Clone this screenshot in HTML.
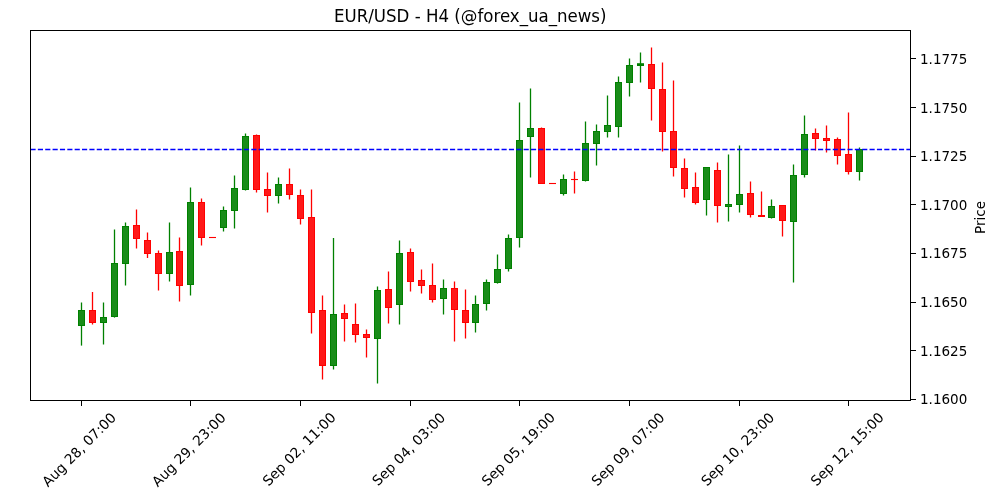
<!DOCTYPE html>
<html><head><meta charset="utf-8"><title>EUR/USD - H4</title>
<style>
html,body{margin:0;padding:0;background:#fff;}
body{width:1000px;height:500px;overflow:hidden;}
svg{display:block;}
text{font-family:"DejaVu Sans","Liberation Sans",sans-serif;fill:#000;}
.t10{font-size:13.889px;}
.t12{font-size:16.667px;}
</style></head><body>
<svg width="1000" height="500" viewBox="0 0 1000 500">
<rect x="0" y="0" width="1000" height="500" fill="#fff"/>

<g id="wicks">
<rect x="80.85" y="302.5" width="1.3" height="43.1" fill="#008000"/>
<rect x="91.85" y="292.0" width="1.3" height="32.5" fill="#ff0000"/>
<rect x="102.85" y="302.5" width="1.3" height="42.0" fill="#008000"/>
<rect x="113.85" y="229.5" width="1.3" height="88.1" fill="#008000"/>
<rect x="124.85" y="222.5" width="1.3" height="63.0" fill="#008000"/>
<rect x="135.85" y="209.5" width="1.3" height="39.0" fill="#ff0000"/>
<rect x="146.85" y="232.5" width="1.3" height="25.5" fill="#ff0000"/>
<rect x="157.85" y="250.5" width="1.3" height="40.0" fill="#ff0000"/>
<rect x="168.85" y="222.5" width="1.3" height="59.0" fill="#008000"/>
<rect x="178.85" y="237.5" width="1.3" height="64.0" fill="#ff0000"/>
<rect x="189.85" y="187.5" width="1.3" height="108.0" fill="#008000"/>
<rect x="200.85" y="198.5" width="1.3" height="47.0" fill="#ff0000"/>
<rect x="222.85" y="206.5" width="1.3" height="25.0" fill="#008000"/>
<rect x="233.85" y="175.5" width="1.3" height="53.0" fill="#008000"/>
<rect x="244.85" y="133.5" width="1.3" height="57.0" fill="#008000"/>
<rect x="255.85" y="134.5" width="1.3" height="58.0" fill="#ff0000"/>
<rect x="266.85" y="172.5" width="1.3" height="40.0" fill="#ff0000"/>
<rect x="277.85" y="177.5" width="1.3" height="26.0" fill="#008000"/>
<rect x="288.85" y="168.5" width="1.3" height="31.0" fill="#ff0000"/>
<rect x="299.85" y="189.5" width="1.3" height="35.0" fill="#ff0000"/>
<rect x="310.85" y="189.5" width="1.3" height="144.0" fill="#ff0000"/>
<rect x="321.85" y="295.5" width="1.3" height="84.0" fill="#ff0000"/>
<rect x="332.85" y="238.0" width="1.3" height="131.5" fill="#008000"/>
<rect x="343.85" y="304.5" width="1.3" height="37.0" fill="#ff0000"/>
<rect x="354.85" y="303.5" width="1.3" height="39.0" fill="#ff0000"/>
<rect x="365.85" y="329.5" width="1.3" height="28.0" fill="#ff0000"/>
<rect x="376.85" y="286.5" width="1.3" height="97.0" fill="#008000"/>
<rect x="387.85" y="271.5" width="1.3" height="52.0" fill="#ff0000"/>
<rect x="398.85" y="240.5" width="1.3" height="84.0" fill="#008000"/>
<rect x="409.85" y="248.5" width="1.3" height="43.0" fill="#ff0000"/>
<rect x="420.85" y="269.5" width="1.3" height="24.0" fill="#ff0000"/>
<rect x="431.85" y="263.5" width="1.3" height="39.0" fill="#ff0000"/>
<rect x="442.85" y="279.5" width="1.3" height="35.0" fill="#008000"/>
<rect x="453.85" y="281.5" width="1.3" height="60.0" fill="#ff0000"/>
<rect x="464.85" y="289.5" width="1.3" height="49.0" fill="#ff0000"/>
<rect x="474.85" y="295.5" width="1.3" height="37.0" fill="#008000"/>
<rect x="485.85" y="279.5" width="1.3" height="31.0" fill="#008000"/>
<rect x="496.85" y="254.5" width="1.3" height="29.1" fill="#008000"/>
<rect x="507.85" y="234.5" width="1.3" height="37.0" fill="#008000"/>
<rect x="518.85" y="102.5" width="1.3" height="145.0" fill="#008000"/>
<rect x="529.85" y="88.5" width="1.3" height="89.0" fill="#008000"/>
<rect x="540.85" y="127.5" width="1.3" height="56.1" fill="#ff0000"/>
<rect x="562.85" y="174.5" width="1.3" height="21.0" fill="#008000"/>
<rect x="573.85" y="171.5" width="1.3" height="22.0" fill="#ff0000"/>
<rect x="584.85" y="121.5" width="1.3" height="60.0" fill="#008000"/>
<rect x="595.85" y="124.5" width="1.3" height="41.0" fill="#008000"/>
<rect x="606.85" y="95.5" width="1.3" height="42.0" fill="#008000"/>
<rect x="617.85" y="76.5" width="1.3" height="61.0" fill="#008000"/>
<rect x="628.85" y="58.5" width="1.3" height="38.0" fill="#008000"/>
<rect x="639.85" y="52.5" width="1.3" height="30.0" fill="#008000"/>
<rect x="650.85" y="47.5" width="1.3" height="73.0" fill="#ff0000"/>
<rect x="661.85" y="62.5" width="1.3" height="89.0" fill="#ff0000"/>
<rect x="672.85" y="80.5" width="1.3" height="96.0" fill="#ff0000"/>
<rect x="683.85" y="158.5" width="1.3" height="39.0" fill="#ff0000"/>
<rect x="694.85" y="172.5" width="1.3" height="32.0" fill="#ff0000"/>
<rect x="705.85" y="167.0" width="1.3" height="48.5" fill="#008000"/>
<rect x="716.85" y="162.5" width="1.3" height="60.0" fill="#ff0000"/>
<rect x="727.85" y="154.5" width="1.3" height="67.0" fill="#008000"/>
<rect x="738.85" y="145.5" width="1.3" height="67.0" fill="#008000"/>
<rect x="749.85" y="181.5" width="1.3" height="36.0" fill="#ff0000"/>
<rect x="760.85" y="191.5" width="1.3" height="25.5" fill="#ff0000"/>
<rect x="770.85" y="199.5" width="1.3" height="19.0" fill="#008000"/>
<rect x="781.85" y="205.0" width="1.3" height="31.5" fill="#ff0000"/>
<rect x="792.85" y="164.5" width="1.3" height="118.0" fill="#008000"/>
<rect x="803.85" y="115.5" width="1.3" height="62.0" fill="#008000"/>
<rect x="814.85" y="128.5" width="1.3" height="22.0" fill="#ff0000"/>
<rect x="825.85" y="125.5" width="1.3" height="27.0" fill="#ff0000"/>
<rect x="836.85" y="137.5" width="1.3" height="27.0" fill="#ff0000"/>
<rect x="847.85" y="112.5" width="1.3" height="62.0" fill="#ff0000"/>
<rect x="858.85" y="147.5" width="1.3" height="33.0" fill="#008000"/>
</g>
<g id="bodies">
<rect x="78.5" y="310.5" width="6" height="15.0" fill="#198c19" stroke="#008000" stroke-width="1"/>
<rect x="89.5" y="310.5" width="6" height="12.0" fill="#ff1919" stroke="#ff0000" stroke-width="1"/>
<rect x="100.5" y="317.5" width="6" height="5.0" fill="#198c19" stroke="#008000" stroke-width="1"/>
<rect x="111.5" y="263.5" width="6" height="53.0" fill="#198c19" stroke="#008000" stroke-width="1"/>
<rect x="122.5" y="226.5" width="6" height="37.0" fill="#198c19" stroke="#008000" stroke-width="1"/>
<rect x="133.5" y="225.5" width="6" height="13.0" fill="#ff1919" stroke="#ff0000" stroke-width="1"/>
<rect x="144.5" y="240.5" width="6" height="13.0" fill="#ff1919" stroke="#ff0000" stroke-width="1"/>
<rect x="155.5" y="253.5" width="6" height="20.0" fill="#ff1919" stroke="#ff0000" stroke-width="1"/>
<rect x="166.5" y="252.5" width="6" height="21.0" fill="#198c19" stroke="#008000" stroke-width="1"/>
<rect x="176.5" y="251.5" width="6" height="34.0" fill="#ff1919" stroke="#ff0000" stroke-width="1"/>
<rect x="187.5" y="202.5" width="6" height="82.0" fill="#198c19" stroke="#008000" stroke-width="1"/>
<rect x="198.5" y="202.5" width="6" height="35.0" fill="#ff1919" stroke="#ff0000" stroke-width="1"/>
<rect x="209" y="236.95" width="7" height="1.1" fill="#ff0000"/>
<rect x="220.5" y="210.5" width="6" height="17.0" fill="#198c19" stroke="#008000" stroke-width="1"/>
<rect x="231.5" y="188.5" width="6" height="22.0" fill="#198c19" stroke="#008000" stroke-width="1"/>
<rect x="242.5" y="136.5" width="6" height="53.0" fill="#198c19" stroke="#008000" stroke-width="1"/>
<rect x="253.5" y="135.5" width="6" height="54.0" fill="#ff1919" stroke="#ff0000" stroke-width="1"/>
<rect x="264.5" y="189.5" width="6" height="6.0" fill="#ff1919" stroke="#ff0000" stroke-width="1"/>
<rect x="275.5" y="184.5" width="6" height="11.0" fill="#198c19" stroke="#008000" stroke-width="1"/>
<rect x="286.5" y="184.5" width="6" height="10.0" fill="#ff1919" stroke="#ff0000" stroke-width="1"/>
<rect x="297.5" y="195.5" width="6" height="23.0" fill="#ff1919" stroke="#ff0000" stroke-width="1"/>
<rect x="308.5" y="217.5" width="6" height="95.0" fill="#ff1919" stroke="#ff0000" stroke-width="1"/>
<rect x="319.5" y="310.5" width="6" height="55.0" fill="#ff1919" stroke="#ff0000" stroke-width="1"/>
<rect x="330.5" y="314.5" width="6" height="51.0" fill="#198c19" stroke="#008000" stroke-width="1"/>
<rect x="341.5" y="313.5" width="6" height="5.0" fill="#ff1919" stroke="#ff0000" stroke-width="1"/>
<rect x="352.5" y="324.5" width="6" height="10.0" fill="#ff1919" stroke="#ff0000" stroke-width="1"/>
<rect x="363.5" y="334.5" width="6" height="3.0" fill="#ff1919" stroke="#ff0000" stroke-width="1"/>
<rect x="374.5" y="290.5" width="6" height="48.0" fill="#198c19" stroke="#008000" stroke-width="1"/>
<rect x="385.5" y="289.5" width="6" height="18.0" fill="#ff1919" stroke="#ff0000" stroke-width="1"/>
<rect x="396.5" y="253.5" width="6" height="51.0" fill="#198c19" stroke="#008000" stroke-width="1"/>
<rect x="407.5" y="252.5" width="6" height="29.0" fill="#ff1919" stroke="#ff0000" stroke-width="1"/>
<rect x="418.5" y="280.5" width="6" height="5.0" fill="#ff1919" stroke="#ff0000" stroke-width="1"/>
<rect x="429.5" y="285.5" width="6" height="14.0" fill="#ff1919" stroke="#ff0000" stroke-width="1"/>
<rect x="440.5" y="288.5" width="6" height="10.0" fill="#198c19" stroke="#008000" stroke-width="1"/>
<rect x="451.5" y="288.5" width="6" height="21.0" fill="#ff1919" stroke="#ff0000" stroke-width="1"/>
<rect x="462.5" y="310.5" width="6" height="12.0" fill="#ff1919" stroke="#ff0000" stroke-width="1"/>
<rect x="472.5" y="304.5" width="6" height="18.0" fill="#198c19" stroke="#008000" stroke-width="1"/>
<rect x="483.5" y="282.5" width="6" height="21.0" fill="#198c19" stroke="#008000" stroke-width="1"/>
<rect x="494.5" y="269.5" width="6" height="13.0" fill="#198c19" stroke="#008000" stroke-width="1"/>
<rect x="505.5" y="238.5" width="6" height="30.0" fill="#198c19" stroke="#008000" stroke-width="1"/>
<rect x="516.5" y="140.5" width="6" height="97.0" fill="#198c19" stroke="#008000" stroke-width="1"/>
<rect x="527.5" y="128.5" width="6" height="8.0" fill="#198c19" stroke="#008000" stroke-width="1"/>
<rect x="538.5" y="128.5" width="6" height="55.0" fill="#ff1919" stroke="#ff0000" stroke-width="1"/>
<rect x="549" y="182.95" width="7" height="1.1" fill="#ff0000"/>
<rect x="560.5" y="179.5" width="6" height="14.0" fill="#198c19" stroke="#008000" stroke-width="1"/>
<rect x="571" y="178.95" width="7" height="1.1" fill="#ff0000"/>
<rect x="582.5" y="143.5" width="6" height="37.0" fill="#198c19" stroke="#008000" stroke-width="1"/>
<rect x="593.5" y="131.5" width="6" height="12.0" fill="#198c19" stroke="#008000" stroke-width="1"/>
<rect x="604.5" y="125.5" width="6" height="6.0" fill="#198c19" stroke="#008000" stroke-width="1"/>
<rect x="615.5" y="82.5" width="6" height="44.0" fill="#198c19" stroke="#008000" stroke-width="1"/>
<rect x="626.5" y="65.5" width="6" height="17.0" fill="#198c19" stroke="#008000" stroke-width="1"/>
<rect x="637" y="63.2" width="7" height="2.8" fill="#008000"/>
<rect x="648.5" y="64.5" width="6" height="24.0" fill="#ff1919" stroke="#ff0000" stroke-width="1"/>
<rect x="659.5" y="89.5" width="6" height="42.0" fill="#ff1919" stroke="#ff0000" stroke-width="1"/>
<rect x="670.5" y="131.5" width="6" height="36.0" fill="#ff1919" stroke="#ff0000" stroke-width="1"/>
<rect x="681.5" y="168.5" width="6" height="20.0" fill="#ff1919" stroke="#ff0000" stroke-width="1"/>
<rect x="692.5" y="187.5" width="6" height="15.0" fill="#ff1919" stroke="#ff0000" stroke-width="1"/>
<rect x="703.5" y="167.5" width="6" height="32.0" fill="#198c19" stroke="#008000" stroke-width="1"/>
<rect x="714.5" y="170.5" width="6" height="35.0" fill="#ff1919" stroke="#ff0000" stroke-width="1"/>
<rect x="725.5" y="204.5" width="6" height="2.0" fill="#198c19" stroke="#008000" stroke-width="1"/>
<rect x="736.5" y="194.5" width="6" height="10.0" fill="#198c19" stroke="#008000" stroke-width="1"/>
<rect x="747.5" y="193.5" width="6" height="21.0" fill="#ff1919" stroke="#ff0000" stroke-width="1"/>
<rect x="758" y="215.0" width="7" height="2.0" fill="#ff0000"/>
<rect x="768.5" y="206.5" width="6" height="11.0" fill="#198c19" stroke="#008000" stroke-width="1"/>
<rect x="779.5" y="205.5" width="6" height="15.0" fill="#ff1919" stroke="#ff0000" stroke-width="1"/>
<rect x="790.5" y="175.5" width="6" height="46.0" fill="#198c19" stroke="#008000" stroke-width="1"/>
<rect x="801.5" y="134.5" width="6" height="40.0" fill="#198c19" stroke="#008000" stroke-width="1"/>
<rect x="812.5" y="133.5" width="6" height="5.0" fill="#ff1919" stroke="#ff0000" stroke-width="1"/>
<rect x="823.5" y="138.5" width="6" height="2.0" fill="#ff1919" stroke="#ff0000" stroke-width="1"/>
<rect x="834.5" y="139.5" width="6" height="16.0" fill="#ff1919" stroke="#ff0000" stroke-width="1"/>
<rect x="845.5" y="154.5" width="6" height="17.0" fill="#ff1919" stroke="#ff0000" stroke-width="1"/>
<rect x="856.5" y="149.5" width="6" height="22.0" fill="#198c19" stroke="#008000" stroke-width="1"/>
</g>
<line x1="30.5" y1="149.5" x2="910.5" y2="149.5" stroke="#0000ff" stroke-width="1.39" stroke-dasharray="5.14 2.22"/>
<rect x="30.5" y="30.5" width="880" height="370" fill="none" stroke="#000" stroke-width="1" shape-rendering="crispEdges"/>
<g stroke="#000" stroke-width="1" shape-rendering="crispEdges">
<line x1="81.5" y1="400.5" x2="81.5" y2="405.5"/>
<line x1="190.5" y1="400.5" x2="190.5" y2="405.5"/>
<line x1="300.5" y1="400.5" x2="300.5" y2="405.5"/>
<line x1="410.5" y1="400.5" x2="410.5" y2="405.5"/>
<line x1="519.5" y1="400.5" x2="519.5" y2="405.5"/>
<line x1="629.5" y1="400.5" x2="629.5" y2="405.5"/>
<line x1="739.5" y1="400.5" x2="739.5" y2="405.5"/>
<line x1="848.5" y1="400.5" x2="848.5" y2="405.5"/>
<line x1="910.5" y1="399.5" x2="915.5" y2="399.5"/>
<line x1="910.5" y1="350.5" x2="915.5" y2="350.5"/>
<line x1="910.5" y1="302.5" x2="915.5" y2="302.5"/>
<line x1="910.5" y1="253.5" x2="915.5" y2="253.5"/>
<line x1="910.5" y1="204.5" x2="915.5" y2="204.5"/>
<line x1="910.5" y1="156.5" x2="915.5" y2="156.5"/>
<line x1="910.5" y1="107.5" x2="915.5" y2="107.5"/>
<line x1="910.5" y1="58.5" x2="915.5" y2="58.5"/>
</g>
<text class="t10" x="920.0" y="404" textLength="47.3" lengthAdjust="spacingAndGlyphs">1.1600</text>
<text class="t10" x="920.0" y="356" textLength="47.3" lengthAdjust="spacingAndGlyphs">1.1625</text>
<text class="t10" x="920.0" y="307" textLength="47.3" lengthAdjust="spacingAndGlyphs">1.1650</text>
<text class="t10" x="920.0" y="258" textLength="47.3" lengthAdjust="spacingAndGlyphs">1.1675</text>
<text class="t10" x="920.0" y="210" textLength="47.3" lengthAdjust="spacingAndGlyphs">1.1700</text>
<text class="t10" x="920.0" y="161" textLength="47.3" lengthAdjust="spacingAndGlyphs">1.1725</text>
<text class="t10" x="920.0" y="113" textLength="47.3" lengthAdjust="spacingAndGlyphs">1.1750</text>
<text class="t10" x="920.0" y="64" textLength="47.3" lengthAdjust="spacingAndGlyphs">1.1775</text>
<text class="t10" text-anchor="middle" transform="translate(79.0,449.5) rotate(-45)" x="0" y="5" textLength="97.50" lengthAdjust="spacingAndGlyphs">Aug 28, 07:00</text>
<text class="t10" text-anchor="middle" transform="translate(188.7,449.5) rotate(-45)" x="0" y="5" textLength="97.50" lengthAdjust="spacingAndGlyphs">Aug 29, 23:00</text>
<text class="t10" text-anchor="middle" transform="translate(299.0,449.0) rotate(-45)" x="0" y="5" textLength="96.62" lengthAdjust="spacingAndGlyphs">Sep 02, 11:00</text>
<text class="t10" text-anchor="middle" transform="translate(408.6,449.0) rotate(-45)" x="0" y="5" textLength="96.38" lengthAdjust="spacingAndGlyphs">Sep 04, 03:00</text>
<text class="t10" text-anchor="middle" transform="translate(518.2,449.0) rotate(-45)" x="0" y="5" textLength="96.62" lengthAdjust="spacingAndGlyphs">Sep 05, 19:00</text>
<text class="t10" text-anchor="middle" transform="translate(627.9,449.0) rotate(-45)" x="0" y="5" textLength="96.50" lengthAdjust="spacingAndGlyphs">Sep 09, 07:00</text>
<text class="t10" text-anchor="middle" transform="translate(737.5,449.0) rotate(-45)" x="0" y="5" textLength="96.50" lengthAdjust="spacingAndGlyphs">Sep 10, 23:00</text>
<text class="t10" text-anchor="middle" transform="translate(847.1,449.0) rotate(-45)" x="0" y="5" textLength="96.62" lengthAdjust="spacingAndGlyphs">Sep 12, 15:00</text>
<text class="t12" text-anchor="middle" transform="translate(470.25,22) scale(1,1.0833)" x="0" y="0" textLength="272.5" lengthAdjust="spacingAndGlyphs">EUR/USD - H4 (@forex_ua_news)</text>
<text class="t10" text-anchor="middle" transform="translate(984.5,217.4) rotate(-90)" x="0" y="0" textLength="33.0" lengthAdjust="spacingAndGlyphs">Price</text>
</svg></body></html>
